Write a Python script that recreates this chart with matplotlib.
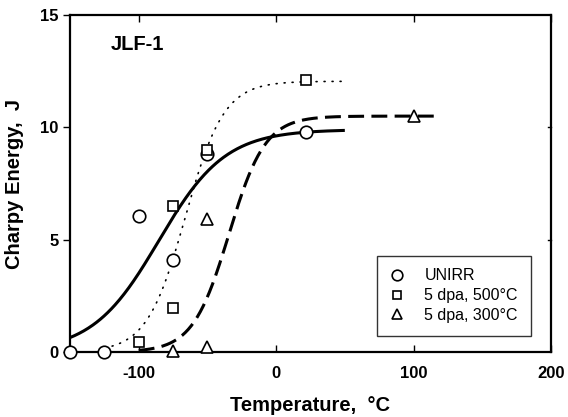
import numpy as np
import matplotlib
matplotlib.use("Agg")
import matplotlib.pyplot as plt

plt.rcParams['font.family'] = ['Liberation Sans', 'DejaVu Sans']

# Measured data
unirr_T = [-150, -125, -100, -75, -50, 22]
unirr_E = [0.0, 0.0, 6.05, 4.1, 8.8, 9.8]
d500_T = [-100, -75, -75, -50, 22]
d500_E = [0.45, 6.5, 1.95, 9.0, 12.1]
d300_T = [-75, -50, -50, 100]
d300_E = [0.05, 0.2, 5.9, 10.5]

# Hyperbolic-tangent fit parameters: (LS, US, DBTT, C, Tmin, Tmax)
fit_unirr = [0.0, 9.9, -85.4, 48.4, -150, 50]
fit_500 = [0.0, 12.05, -66.0, 28.0, -125, 50]
fit_300 = [0.0, 10.5, -34.3, 26.4, -100, 120]

labels = ["UNIRR", "5 dpa, 500°C", "5 dpa, 300°C"]


def tanh_curve(p):
    ls, us, dbtt, c, t0, t1 = p
    t = np.linspace(t0, t1, 300)
    return t, ls + (us - ls) / 2.0 * (1 + np.tanh((t - dbtt) / c))


fig = plt.figure(figsize=(5.68, 4.17), dpi=100)
ax = fig.add_axes([0.1232, 0.1559, 0.8468, 0.8081])

t, e = tanh_curve(fit_unirr)
ax.plot(t, e, color='black', lw=2.2, solid_capstyle='butt', zorder=2)
t, e = tanh_curve(fit_500)
ax.plot(t, e, color='black', lw=1.2, linestyle=(0, (0.6, 4.2)), dash_capstyle='round', zorder=2)
t, e = tanh_curve(fit_300)
ax.plot(t, e, color='black', lw=2.2, linestyle=(0, (5.2, 2.4)), zorder=2)

mk = dict(linestyle='none', markerfacecolor='white', markeredgecolor='black',
          markeredgewidth=1.2, clip_on=False, zorder=3)
ax.plot(unirr_T, unirr_E, marker='o', markersize=9, label=labels[0], **mk)
ax.plot(d500_T, d500_E, marker='s', markersize=7.5, label=labels[1], **mk)
ax.plot(d300_T, d300_E, marker='^', markersize=8.5, label=labels[2], **mk)

ax.set_xlim(-150, 200)
ax.set_ylim(0, 15)
ax.set_xticks([-100, 0, 100, 200])
ax.set_xticklabels(['-100', '0', '100', '200'])
ax.set_yticks([0, 5, 10, 15])
for s in ax.spines.values():
    s.set_linewidth(1.6)

ax.tick_params(axis='x', direction='in', top=True, length=5, width=1, labelsize=12, pad=10)
ax.tick_params(axis='y', direction='out', right=False, length=5, width=1, labelsize=12, pad=3)
for lbl in ax.get_xticklabels() + ax.get_yticklabels():
    lbl.set_fontweight('bold')
# right-side inward ticks
for yv in [5, 10]:
    ax.plot([200 - 2.5, 200], [yv, yv], color='black', lw=1, clip_on=False, zorder=4)

ax.set_xlabel('Temperature,  °C', fontsize=14.5, fontweight='bold', labelpad=11)
ax.set_ylabel('Charpy Energy,  J', fontsize=14.5, fontweight='bold', labelpad=12)

ax.text(-120, 13.68, 'JLF-1', fontsize=14.5, fontweight='bold', ha='left', va='center')

leg = ax.legend(loc='lower right', bbox_to_anchor=(0.958, 0.048), fontsize=11.5, frameon=True,
                fancybox=False, edgecolor='black', handlelength=1.0, handletextpad=1.2,
                borderpad=0.8, labelspacing=0.3, borderaxespad=0, markerscale=0.85)
leg.get_frame().set_linewidth(1.0)

fig.savefig('out.png', dpi=100)
